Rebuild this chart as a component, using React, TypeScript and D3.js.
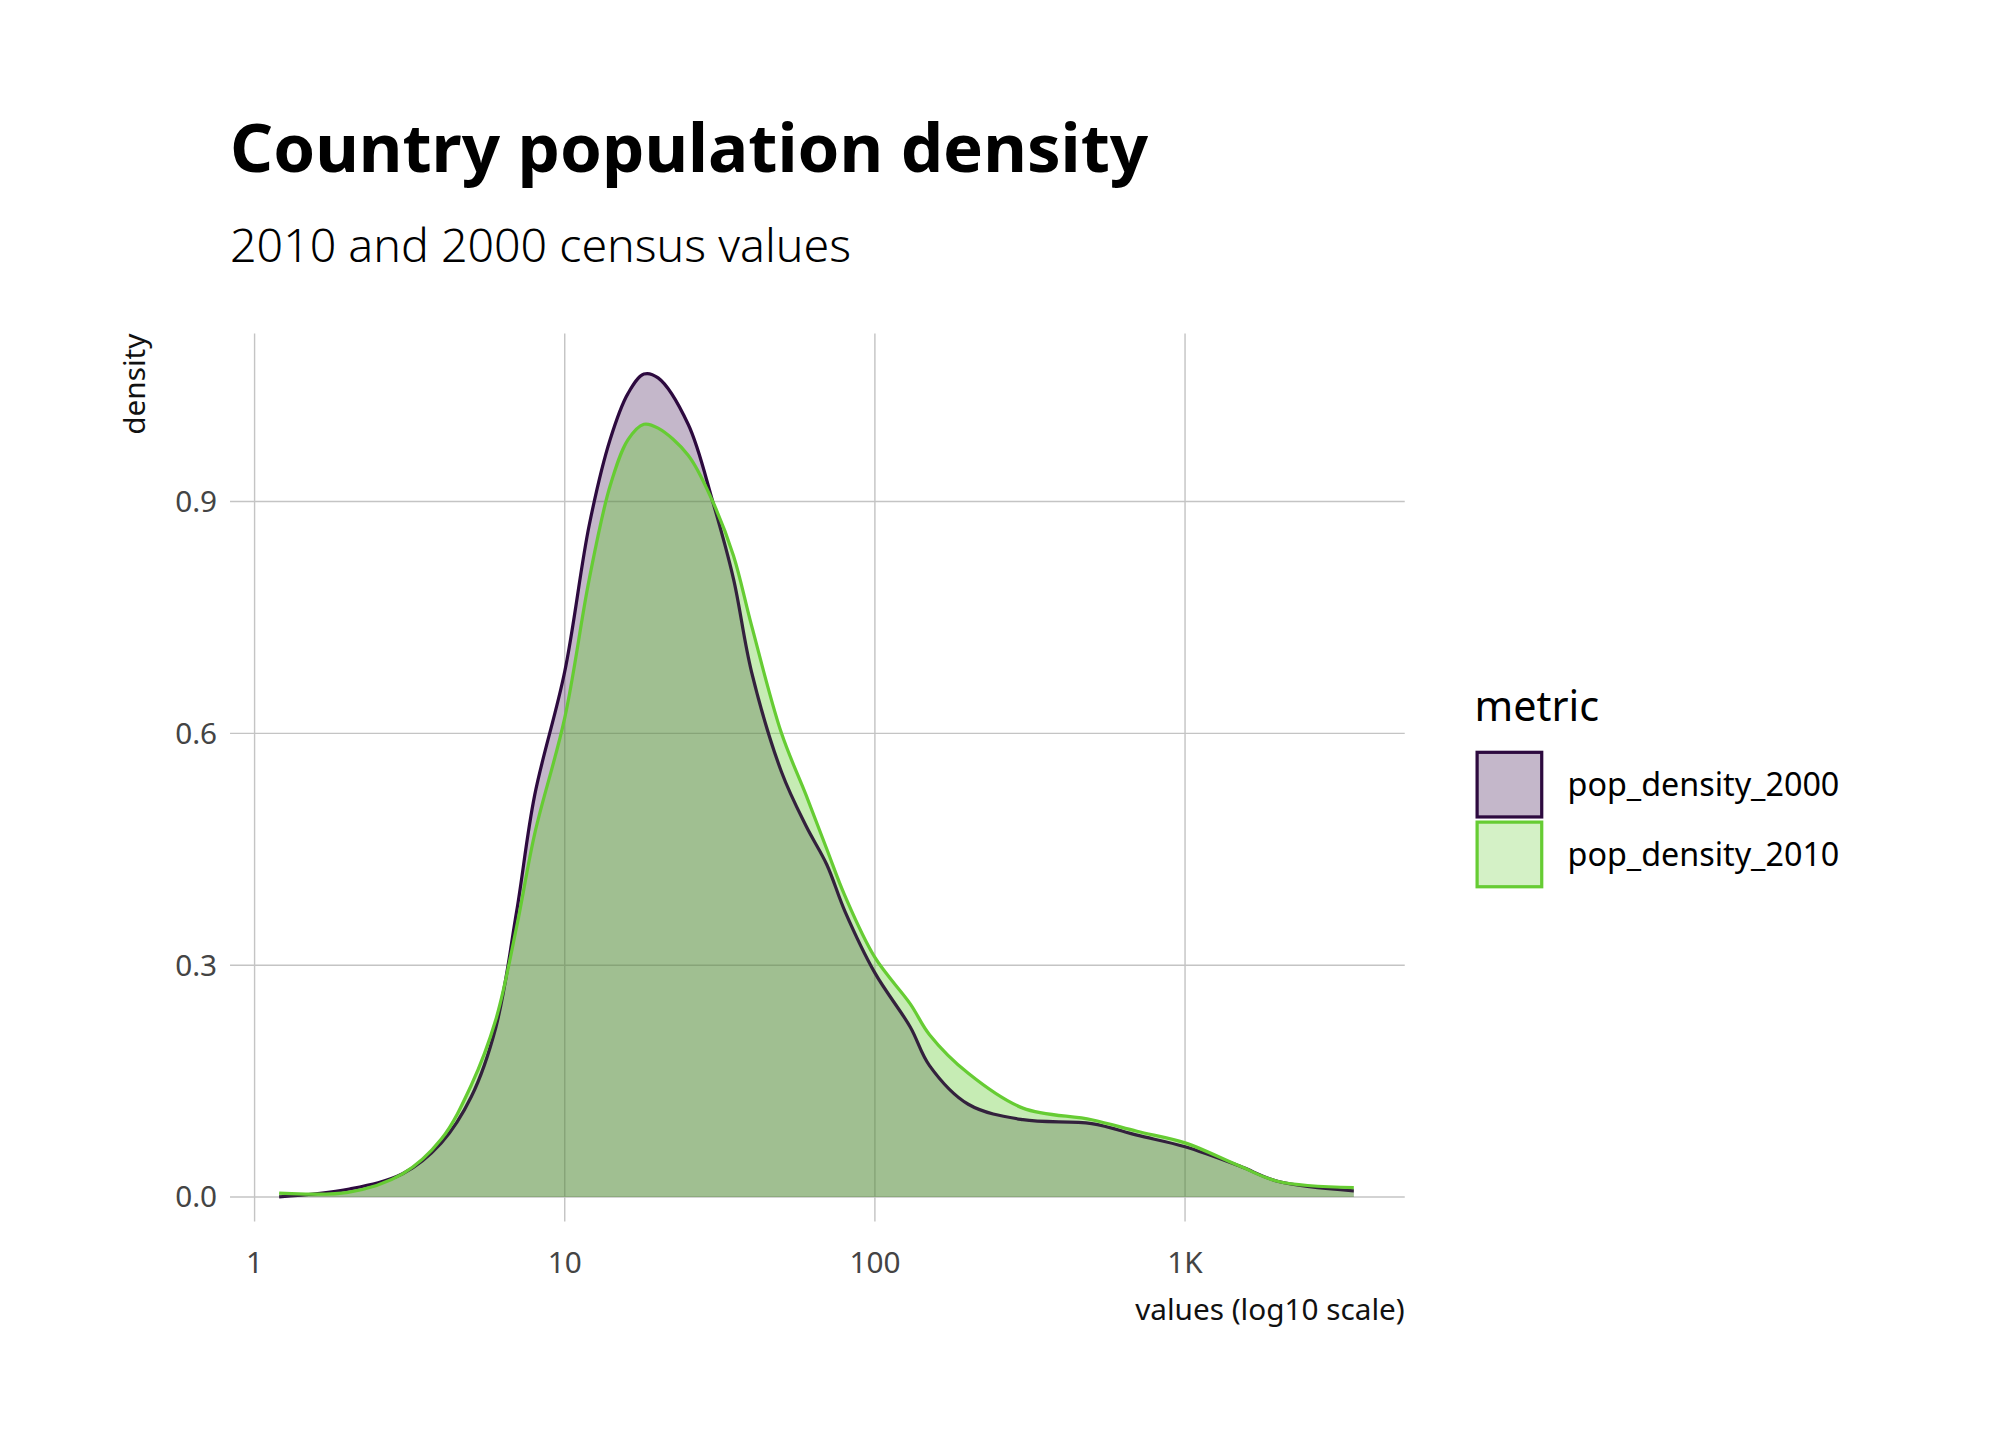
import React, { useRef, useEffect } from 'react';
import * as d3 from 'd3';

const xs = [1.2, 2, 3, 4, 5, 6, 7, 8, 10, 12, 14, 16, 18, 20, 25, 30, 35, 40, 50, 60, 70, 80, 100, 130, 150, 200, 300, 500, 700, 1000, 1500, 2000, 3500];
const dens2000 = [0, 0.01, 0.03, 0.07, 0.13, 0.22, 0.37, 0.52, 0.68, 0.87, 0.98, 1.04, 1.065, 1.06, 1.0, 0.9, 0.8, 0.68, 0.55, 0.48, 0.43, 0.37, 0.29, 0.22, 0.17, 0.12, 0.1, 0.095, 0.08, 0.065, 0.04, 0.02, 0.008];
const dens2010 = [0.005, 0.006, 0.03, 0.075, 0.145, 0.23, 0.35, 0.47, 0.62, 0.8, 0.92, 0.98, 1.0, 0.995, 0.96, 0.9, 0.83, 0.74, 0.6, 0.52, 0.45, 0.39, 0.31, 0.25, 0.21, 0.16, 0.115, 0.1, 0.085, 0.07, 0.04, 0.02, 0.012];
const xTicks = [1, 10, 100, 1000];
const xTickLabels = ['1', '10', '100', '1K'];
const yTicks = [0, 0.3, 0.6, 0.9];
const metrics = ['pop_density_2000', 'pop_density_2010'];
const lineColors = ['#2d0a3f', '#66cc33'];
const fillColors = ['rgba(59,15,79,0.3)', 'rgba(102,204,51,0.28)'];

const App: React.FC = () => {
  const svgRef = useRef<SVGSVGElement | null>(null);

  useEffect(() => {
    if (!svgRef.current) return;
    const svg = d3.select(svgRef.current);
    svg.selectAll('*').remove();
    const font = 'Noto Sans, sans-serif';

    const x = d3.scaleLog().domain([1, 1000]).range([197, 917]);
    const y = d3.scaleLinear().domain([0, 0.9]).range([926, 388]);
    const left = 178, right = 1087, top = 258;

    // grid
    const grid = svg.append('g').attr('stroke', '#c4c4c4').attr('stroke-width', 1.1);
    yTicks.forEach(t => grid.append('line').attr('x1', left).attr('x2', right).attr('y1', y(t)).attr('y2', y(t)));
    xTicks.forEach(t => grid.append('line').attr('x1', x(t)).attr('x2', x(t)).attr('y1', top).attr('y2', 945));

    const series = [dens2000, dens2010];
    const area = d3.area<number>().x((_, i) => x(xs[i])).y0(y(0)).y1(d => y(d)).curve(d3.curveCatmullRom);
    const line = d3.line<number>().x((_, i) => x(xs[i])).y(d => y(d)).curve(d3.curveCatmullRom);
    series.forEach((s, i) => svg.append('path').datum(s).attr('fill', fillColors[i]).attr('d', area));
    svg.append('path').datum(dens2000).attr('fill', 'none').attr('stroke', lineColors[0]).attr('stroke-width', 2.5).attr('d', line);
    // green fill overlays the dark line partly
    svg.append('path').datum(dens2010).attr('fill', 'rgba(102,204,51,0.12)').attr('d', area);
    svg.append('path').datum(dens2010).attr('fill', 'none').attr('stroke', lineColors[1]).attr('stroke-width', 2.5).attr('d', line);

    // axis labels
    const tickStyle = (s: any) => s.attr('font-family', font).attr('font-size', 23).attr('fill', '#444');
    yTicks.forEach(t => tickStyle(svg.append('text')).attr('x', 168).attr('y', y(t)).attr('dy', '0.35em').attr('text-anchor', 'end').text(d3.format('.1f')(t)));
    xTicks.forEach((t, i) => tickStyle(svg.append('text')).attr('x', x(t)).attr('y', 985).attr('text-anchor', 'middle').text(xTickLabels[i]));
    svg.append('text').attr('font-family', font).attr('font-size', 23).attr('fill', '#111').attr('x', right).attr('y', 1021).attr('text-anchor', 'end').text('values (log10 scale)');
    svg.append('text').attr('font-family', font).attr('font-size', 23).attr('fill', '#111').attr('transform', 'translate(112,258) rotate(-90)').attr('text-anchor', 'end').text('density');

    // titles
    svg.append('text').attr('font-family', font).attr('font-weight', 'bold').attr('font-size', 52).attr('x', 178).attr('y', 133).text('Country population density');
    svg.append('text').attr('font-family', font).attr('font-weight', 300).attr('font-size', 36).attr('x', 178).attr('y', 203).text('2010 and 2000 census values');

    // legend
    svg.append('text').attr('font-family', font).attr('font-size', 32).attr('x', 1141).attr('y', 558).text('metric');
    metrics.forEach((m, i) => {
      const yy = 582 + i * 54;
      svg.append('rect').attr('x', 1143).attr('y', yy).attr('width', 50).attr('height', 50)
        .attr('fill', fillColors[i]).attr('stroke', lineColors[i]).attr('stroke-width', 2.5);
      svg.append('text').attr('font-family', font).attr('font-size', 25).attr('x', 1213).attr('y', yy + 25).attr('dy', '0.35em').text(m);
    });
  }, []);

  return (
    <div style={{ position: 'absolute', left: 0, top: 0, background: '#fff' }}>
      <svg ref={svgRef} width={2016} height={1440} viewBox="0 0 1560 1114" preserveAspectRatio="none" />
    </div>
  );
};

export default App;
